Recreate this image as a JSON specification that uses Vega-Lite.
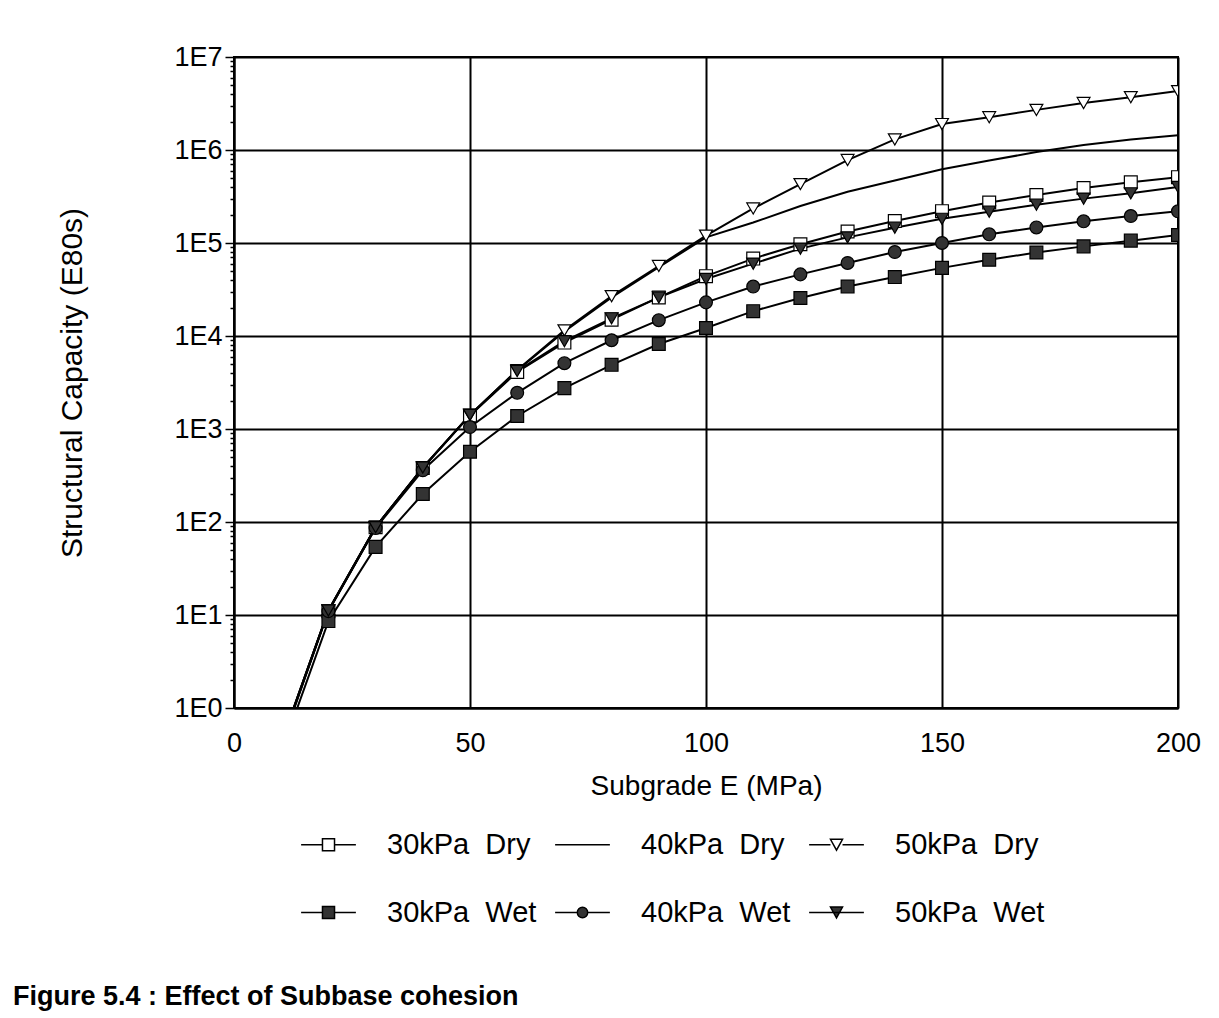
{
  "$schema": "https://vega.github.io/schema/vega-lite/v6.json",
  "autosize": {"type": "none"},
  "width": 944,
  "height": 651,
  "padding": {"left": 234, "top": 57, "right": 41, "bottom": 310},
  "background": "white",
  "config": {
    "view": {"stroke": "black", "strokeWidth": 2},
    "font": "Liberation Sans",
    "point": {"stroke": "black", "strokeWidth": 1.5},
    "legend": {"symbolStrokeColor": "black", "symbolStrokeWidth": 1.5}
  },
  "title": {
    "text": "Figure 5.4 : Effect of Subbase cohesion",
    "orient": "bottom",
    "anchor": "start",
    "font": "Liberation Sans",
    "fontWeight": "bold",
    "fontSize": 27,
    "color": "black",
    "dx": -45,
    "offset": 56
  },
  "data": {
    "values": [
      {"E": 10, "series": "30kPa Dry", "cap": 0.4},
      {"E": 20, "series": "30kPa Dry", "cap": 11},
      {"E": 30, "series": "30kPa Dry", "cap": 88},
      {"E": 40, "series": "30kPa Dry", "cap": 380},
      {"E": 50, "series": "30kPa Dry", "cap": 1400},
      {"E": 60, "series": "30kPa Dry", "cap": 4100},
      {"E": 70, "series": "30kPa Dry", "cap": 8500},
      {"E": 80, "series": "30kPa Dry", "cap": 15000},
      {"E": 90, "series": "30kPa Dry", "cap": 26000},
      {"E": 100, "series": "30kPa Dry", "cap": 44000},
      {"E": 110, "series": "30kPa Dry", "cap": 68000},
      {"E": 120, "series": "30kPa Dry", "cap": 97000},
      {"E": 130, "series": "30kPa Dry", "cap": 133000},
      {"E": 140, "series": "30kPa Dry", "cap": 172000},
      {"E": 150, "series": "30kPa Dry", "cap": 220000},
      {"E": 160, "series": "30kPa Dry", "cap": 272000},
      {"E": 170, "series": "30kPa Dry", "cap": 328000},
      {"E": 180, "series": "30kPa Dry", "cap": 390000},
      {"E": 190, "series": "30kPa Dry", "cap": 450000},
      {"E": 200, "series": "30kPa Dry", "cap": 510000},
      {"E": 10, "series": "40kPa Dry", "cap": 0.42},
      {"E": 20, "series": "40kPa Dry", "cap": 11.2},
      {"E": 30, "series": "40kPa Dry", "cap": 88},
      {"E": 40, "series": "40kPa Dry", "cap": 385},
      {"E": 50, "series": "40kPa Dry", "cap": 1420},
      {"E": 60, "series": "40kPa Dry", "cap": 4250},
      {"E": 70, "series": "40kPa Dry", "cap": 11200},
      {"E": 80, "series": "40kPa Dry", "cap": 26000},
      {"E": 90, "series": "40kPa Dry", "cap": 55000},
      {"E": 100, "series": "40kPa Dry", "cap": 115000},
      {"E": 110, "series": "40kPa Dry", "cap": 166000},
      {"E": 120, "series": "40kPa Dry", "cap": 250000},
      {"E": 130, "series": "40kPa Dry", "cap": 355000},
      {"E": 140, "series": "40kPa Dry", "cap": 470000},
      {"E": 150, "series": "40kPa Dry", "cap": 620000},
      {"E": 160, "series": "40kPa Dry", "cap": 770000},
      {"E": 170, "series": "40kPa Dry", "cap": 950000},
      {"E": 180, "series": "40kPa Dry", "cap": 1130000},
      {"E": 190, "series": "40kPa Dry", "cap": 1300000},
      {"E": 200, "series": "40kPa Dry", "cap": 1440000},
      {"E": 10, "series": "50kPa Dry", "cap": 0.42},
      {"E": 20, "series": "50kPa Dry", "cap": 11.2},
      {"E": 30, "series": "50kPa Dry", "cap": 88},
      {"E": 40, "series": "50kPa Dry", "cap": 385},
      {"E": 50, "series": "50kPa Dry", "cap": 1420},
      {"E": 60, "series": "50kPa Dry", "cap": 4300},
      {"E": 70, "series": "50kPa Dry", "cap": 11500},
      {"E": 80, "series": "50kPa Dry", "cap": 26800},
      {"E": 90, "series": "50kPa Dry", "cap": 56600},
      {"E": 100, "series": "50kPa Dry", "cap": 120000},
      {"E": 110, "series": "50kPa Dry", "cap": 235000},
      {"E": 120, "series": "50kPa Dry", "cap": 430000},
      {"E": 130, "series": "50kPa Dry", "cap": 780000},
      {"E": 140, "series": "50kPa Dry", "cap": 1300000},
      {"E": 150, "series": "50kPa Dry", "cap": 1900000},
      {"E": 160, "series": "50kPa Dry", "cap": 2250000},
      {"E": 170, "series": "50kPa Dry", "cap": 2700000},
      {"E": 180, "series": "50kPa Dry", "cap": 3200000},
      {"E": 190, "series": "50kPa Dry", "cap": 3700000},
      {"E": 200, "series": "50kPa Dry", "cap": 4300000},
      {"E": 10, "series": "30kPa Wet", "cap": 0.33},
      {"E": 20, "series": "30kPa Wet", "cap": 8.6},
      {"E": 30, "series": "30kPa Wet", "cap": 54},
      {"E": 40, "series": "30kPa Wet", "cap": 200},
      {"E": 50, "series": "30kPa Wet", "cap": 570},
      {"E": 60, "series": "30kPa Wet", "cap": 1380},
      {"E": 70, "series": "30kPa Wet", "cap": 2750},
      {"E": 80, "series": "30kPa Wet", "cap": 4900},
      {"E": 90, "series": "30kPa Wet", "cap": 8200},
      {"E": 100, "series": "30kPa Wet", "cap": 12200},
      {"E": 110, "series": "30kPa Wet", "cap": 18500},
      {"E": 120, "series": "30kPa Wet", "cap": 25600},
      {"E": 130, "series": "30kPa Wet", "cap": 34000},
      {"E": 140, "series": "30kPa Wet", "cap": 43000},
      {"E": 150, "series": "30kPa Wet", "cap": 54000},
      {"E": 160, "series": "30kPa Wet", "cap": 66000},
      {"E": 170, "series": "30kPa Wet", "cap": 79000},
      {"E": 180, "series": "30kPa Wet", "cap": 92000},
      {"E": 190, "series": "30kPa Wet", "cap": 106000},
      {"E": 200, "series": "30kPa Wet", "cap": 122000},
      {"E": 10, "series": "40kPa Wet", "cap": 0.4},
      {"E": 20, "series": "40kPa Wet", "cap": 11},
      {"E": 30, "series": "40kPa Wet", "cap": 86},
      {"E": 40, "series": "40kPa Wet", "cap": 360},
      {"E": 50, "series": "40kPa Wet", "cap": 1050},
      {"E": 60, "series": "40kPa Wet", "cap": 2450},
      {"E": 70, "series": "40kPa Wet", "cap": 5100},
      {"E": 80, "series": "40kPa Wet", "cap": 9000},
      {"E": 90, "series": "40kPa Wet", "cap": 14800},
      {"E": 100, "series": "40kPa Wet", "cap": 23000},
      {"E": 110, "series": "40kPa Wet", "cap": 34000},
      {"E": 120, "series": "40kPa Wet", "cap": 46000},
      {"E": 130, "series": "40kPa Wet", "cap": 61000},
      {"E": 140, "series": "40kPa Wet", "cap": 80000},
      {"E": 150, "series": "40kPa Wet", "cap": 100000},
      {"E": 160, "series": "40kPa Wet", "cap": 124000},
      {"E": 170, "series": "40kPa Wet", "cap": 147000},
      {"E": 180, "series": "40kPa Wet", "cap": 171000},
      {"E": 190, "series": "40kPa Wet", "cap": 195000},
      {"E": 200, "series": "40kPa Wet", "cap": 219000},
      {"E": 10, "series": "50kPa Wet", "cap": 0.42},
      {"E": 20, "series": "50kPa Wet", "cap": 11.2},
      {"E": 30, "series": "50kPa Wet", "cap": 88},
      {"E": 40, "series": "50kPa Wet", "cap": 385},
      {"E": 50, "series": "50kPa Wet", "cap": 1420},
      {"E": 60, "series": "50kPa Wet", "cap": 4200},
      {"E": 70, "series": "50kPa Wet", "cap": 8800},
      {"E": 80, "series": "50kPa Wet", "cap": 15500},
      {"E": 90, "series": "50kPa Wet", "cap": 26000},
      {"E": 100, "series": "50kPa Wet", "cap": 41000},
      {"E": 110, "series": "50kPa Wet", "cap": 60000},
      {"E": 120, "series": "50kPa Wet", "cap": 87000},
      {"E": 130, "series": "50kPa Wet", "cap": 115000},
      {"E": 140, "series": "50kPa Wet", "cap": 146000},
      {"E": 150, "series": "50kPa Wet", "cap": 182000},
      {"E": 160, "series": "50kPa Wet", "cap": 217000},
      {"E": 170, "series": "50kPa Wet", "cap": 258000},
      {"E": 180, "series": "50kPa Wet", "cap": 300000},
      {"E": 190, "series": "50kPa Wet", "cap": 342000},
      {"E": 200, "series": "50kPa Wet", "cap": 400000}
    ]
  },
  "encoding": {
    "x": {
      "field": "E",
      "type": "quantitative",
      "scale": {"domain": [0, 200], "nice": false},
      "axis": {
        "title": "Subgrade E (MPa)",
        "values": [0, 50, 100, 150, 200],
        "grid": true,
        "gridColor": "black",
        "gridWidth": 2,
        "gridOpacity": 1,
        "domainColor": "black",
        "domainWidth": 2,
        "tickSize": 0,
        "labelPadding": 22,
        "labelFont": "Liberation Sans",
        "labelFontSize": 27,
        "labelColor": "black",
        "labelFlush": false,
        "titleFont": "Liberation Sans",
        "titleFontSize": 28,
        "titleFontWeight": "normal",
        "titleColor": "black",
        "titlePadding": 16
      }
    },
    "y": {
      "field": "cap",
      "type": "quantitative",
      "scale": {"type": "log", "domain": [1, 10000000], "nice": false},
      "axis": {
        "title": "Structural Capacity (E80s)",
        "values": [1, 2, 3, 4, 5, 6, 7, 8, 9, 10, 20, 30, 40, 50, 60, 70, 80, 90, 100, 200, 300, 400, 500, 600, 700, 800, 900, 1000, 2000, 3000, 4000, 5000, 6000, 7000, 8000, 9000, 10000, 20000, 30000, 40000, 50000, 60000, 70000, 80000, 90000, 100000, 200000, 300000, 400000, 500000, 600000, 700000, 800000, 900000, 1000000, 2000000, 3000000, 4000000, 5000000, 6000000, 7000000, 8000000, 9000000, 10000000],
        "labelExpr": "abs(log(datum.value)/LN10 - round(log(datum.value)/LN10)) < 0.001 ? '1E' + round(log(datum.value)/LN10) : ''",
        "grid": true,
        "gridColor": "black",
        "gridWidth": 2,
        "gridOpacity": {"condition": {"test": "abs(log(datum.value)/LN10 - round(log(datum.value)/LN10)) < 0.001", "value": 1}, "value": 0},
        "tickSize": {"condition": {"test": "abs(log(datum.value)/LN10 - round(log(datum.value)/LN10)) < 0.001", "value": 9}, "value": 4},
        "tickColor": "black",
        "tickWidth": 1.5,
        "domainColor": "black",
        "domainWidth": 2,
        "labelPadding": 3,
        "labelFont": "Liberation Sans",
        "labelFontSize": 27,
        "labelColor": "black",
        "labelFlush": false,
        "labelOverlap": false,
        "titleFont": "Liberation Sans",
        "titleFontSize": 30,
        "titleFontWeight": "normal",
        "titleColor": "black",
        "titlePadding": 86
      }
    }
  },
  "layer": [
    {
      "mark": {"type": "line", "color": "black", "strokeWidth": 2, "clip": true},
      "encoding": {
        "detail": {"field": "series", "type": "nominal"}
      }
    },
    {
      "transform": [{"filter": "datum.series != '40kPa Dry'"}],
      "mark": {"type": "point", "filled": true, "stroke": "black", "strokeWidth": 1.2, "opacity": 1, "size": 165, "clip": true},
      "encoding": {
        "shape": {
          "condition": [
            {"test": "indexof(datum.series, '30kPa') >= 0", "value": "square"},
            {"test": "indexof(datum.series, '40kPa') >= 0", "value": "circle"}
          ],
          "value": "triangle-down"
        },
        "fill": {
          "condition": {"test": "indexof(datum.series, 'Wet') >= 0", "value": "#333333"},
          "value": "white"
        }
      }
    },
    {
      "mark": {"type": "point", "filled": true, "stroke": "black", "strokeWidth": 1.5, "opacity": 0, "clip": true},
      "encoding": {
        "shape": {
          "field": "series",
          "type": "nominal",
          "scale": {
            "domain": ["30kPa Dry", "40kPa Dry", "50kPa Dry", "30kPa Wet", "40kPa Wet", "50kPa Wet"],
            "range": [
              "M-1,0H-0.22M0.22,0H1M-0.22,-0.22H0.22V0.22H-0.22Z",
              "M-1,0H1",
              "M-1,0H-0.22M0.22,0H1M-0.22,-0.2L0.22,-0.2L0,0.2Z",
              "M-1,0H-0.22M0.22,0H1M-0.22,-0.22H0.22V0.22H-0.22Z",
              "M-1,0H-0.19M0.19,0H1M-0.19,0A0.19,0.19 0 1,0 0.19,0A0.19,0.19 0 1,0 -0.19,0Z",
              "M-1,0H1M-0.22,-0.2L0.22,-0.2L0,0.2Z"
            ]
          },
          "legend": {
            "title": null,
            "orient": "none",
            "legendX": 66,
            "legendY": 759,
            "direction": "horizontal",
            "columns": 3,
            "padding": 0,
            "symbolSize": 3000,
            "symbolFillColor": "white",
            "symbolStrokeWidth": 1.5,
            "symbolStrokeColor": "black",
            "symbolOpacity": 1,
            "labelFont": "Liberation Sans",
            "labelFontSize": 29,
            "labelColor": "black",
            "labelOffset": 30,
            "labelLimit": 300,
            "labelExpr": "replace(datum.label, ' ', '\u00a0\u00a0')",
            "columnPadding": 15,
            "rowPadding": 24
          }
        },
        "fill": {
          "field": "series",
          "type": "nominal",
          "scale": {
            "domain": ["30kPa Dry", "40kPa Dry", "50kPa Dry", "30kPa Wet", "40kPa Wet", "50kPa Wet"],
            "range": ["white", "white", "white", "#333333", "#333333", "#333333"]
          },
          "legend": {
            "title": null,
            "orient": "none",
            "legendX": 66,
            "legendY": 759,
            "direction": "horizontal",
            "columns": 3,
            "padding": 0,
            "symbolSize": 3000,
            "symbolFillColor": "white",
            "symbolStrokeWidth": 1.5,
            "symbolStrokeColor": "black",
            "symbolOpacity": 1,
            "labelFont": "Liberation Sans",
            "labelFontSize": 29,
            "labelColor": "black",
            "labelOffset": 30,
            "labelLimit": 300,
            "labelExpr": "replace(datum.label, ' ', '\u00a0\u00a0')",
            "columnPadding": 15,
            "rowPadding": 24
          }
        }
      }
    }
  ]
}
